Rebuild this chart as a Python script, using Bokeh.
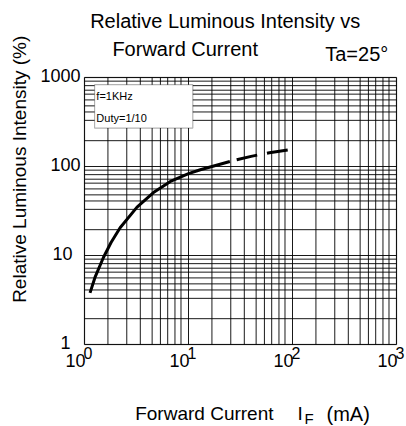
from bokeh.plotting import figure
from bokeh.models import Range1d, Label, BoxAnnotation
from bokeh.embed import file_html
from bokeh.resources import INLINE

# ---- data ----
current_solid = [1.13, 1.27, 1.52, 1.8, 2.2, 3.2, 4.6, 6.7, 10, 13, 25]
intensity_solid = [3.8, 5.8, 9.5, 14, 20.5, 35, 51, 68, 83, 92, 114]
current_dashed = [25, 40, 60, 95]
intensity_dashed = [114, 130, 143, 155]

x_decades = [1, 10, 100, 1000]
x_exponents = ["0", "1", "2", "3"]
y_decades = [1, 10, 100, 1000]
y_tick_labels = ["1", "10", "100", "1000"]
# chart-paper grid lines inside each decade (as drawn on the sheet)
x_grid_mults = [1.68, 2.55, 3.44, 4.47, 5.37, 6.31, 7.41, 8.47]
y_grid_mults = [1.95, 3.3, 4.1, 4.8, 5.6, 6.5, 7.2, 8.1, 9.1]

FONT = "Liberation Sans"
W, H = 406, 426
# frame covers the canvas; plot box at x px 84..396, y px 77..344
XPX, YPX = 104.0, 89.0
x_range = Range1d(10 ** (-84 / XPX), 10 ** ((W - 84) / XPX))
y_range = Range1d(10 ** (-(H - 344) / YPX), 10 ** (344 / YPX))

p = figure(width=W, height=H, x_axis_type="log", y_axis_type="log",
           x_range=x_range, y_range=y_range,
           x_axis_location=None, y_axis_location=None, title=None,
           min_border_left=0, min_border_right=0, min_border_top=0, min_border_bottom=0,
           toolbar_location=None, output_backend="svg")
p.outline_line_color = None
p.background_fill_color = "white"
p.border_fill_color = "white"
p.xgrid.visible = False
p.ygrid.visible = False

xmin, xmax = x_decades[0], x_decades[-1]
ymin, ymax = y_decades[0], y_decades[-1]
xt = sorted(set([d * m for d in x_decades[:-1] for m in [1] + x_grid_mults] + [xmax]))
yt = sorted(set([d * m for d in y_decades[:-1] for m in [1] + y_grid_mults] + [ymax]))
p.segment(x0=xt, y0=[ymin] * len(xt), x1=xt, y1=[ymax] * len(xt), line_color="black", line_width=1, line_alpha=0.9)
p.segment(x0=[xmin] * len(yt), y0=yt, x1=[xmax] * len(yt), y1=yt, line_color="black", line_width=1, line_alpha=0.9)

p.line(current_solid, intensity_solid, line_color="black", line_width=3, line_join="round")
p.line(current_dashed, intensity_dashed, line_color="black", line_width=3,
       line_dash="21 10", line_dash_offset=24)

# plot outline
p.add_layout(BoxAnnotation(left=xmin, right=xmax, bottom=ymin, top=ymax, fill_alpha=0,
                           line_color="black", line_width=1.5))
# note box
p.add_layout(BoxAnnotation(left=1.25, right=11, bottom=270, top=830, fill_color="white",
                           fill_alpha=1, line_color="black", line_width=1.2))


def lab(x, y, text, xo, yo, size, align="left", baseline="middle", angle=0):
    p.add_layout(Label(x=x, y=y, x_offset=xo, y_offset=yo, text=text, text_font=FONT,
                       text_font_size=f"{size}px", text_align=align, text_baseline=baseline,
                       angle=angle, text_color="black"))


lab(1.3, 1000, "f=1KHz", 0, -18.5, 11)
lab(1.3, 1000, "Duty=1/10", 0, -40, 11)

# titles
lab(1, 1000, "Relative Luminous Intensity vs", 140.7, 57, 20, align="center")
lab(1, 1000, "Forward Current", 100.7, 29, 20, align="center")
lab(1, 1000, "Ta=25°", 240.7, 24, 20)

# y tick labels
y_off_x = [-14, -12, -4, -4]
for v, t, xo in zip(y_decades, y_tick_labels, y_off_x):
    lab(1, v, t, xo, 2, 18, align="right")

# x tick labels 10^n
for v, e in zip(x_decades, x_exponents):
    lab(v, 1, "10", 1, -16, 18, align="right")
    lab(v, 1, e, -1, -8, 16)

# axis titles
lab(1, 100, "Relative Luminous Intensity   (%)", -65, 2.5, 19, align="center", angle=1.5708)
lab(1, 1, "Forward Current", 50.7, -69, 19)
lab(1, 1, "I", 213, -69, 19)
lab(1, 1, "F", 220, -74, 15)
lab(1, 1, "(mA)", 242, -69, 20)

open("out.html", "w").write(file_html(p, INLINE))
